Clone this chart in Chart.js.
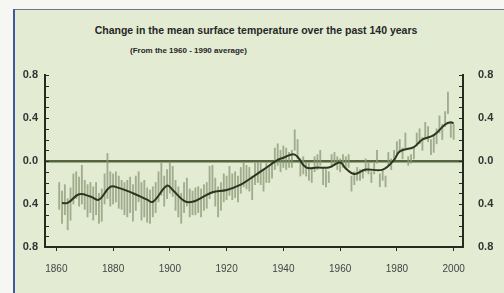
<!DOCTYPE html>
<html>
<head>
<meta charset="utf-8">
<script src="https://cdn.jsdelivr.net/npm/chart.js@4"></script>
<style>
  html, body { margin: 0; padding: 0; background: #f6f7f2; }
  #wrap { position: relative; width: 504px; height: 293px; overflow: hidden; }
  #panel {
    position: absolute; left: 13px; top: 9px; right: 0; bottom: 0;
    background-color: #e3ebd3;
    border-top: 1px solid #6c7890;
    border-left: 2px solid #3e58a3;
  }
  .txt { position: absolute; font-family: "Liberation Sans", Arial, sans-serif; font-weight: bold; color: #262626; white-space: nowrap; }
  #title { left: 0; width: 512px; top: 24px; font-size: 10.5px; text-align: center; }
  #sub { left: 130px; top: 46px; font-size: 8px; }
  canvas { position: absolute; left: 0; top: 0; }
</style>
</head>
<body>
<div id="wrap">
  <div id="panel"></div>
  <div class="txt" id="title">Change in the mean surface temperature over the past 140 years</div>
  <div class="txt" id="sub">(From the 1960 - 1990 average)</div>
  <canvas id="c" width="504" height="293"></canvas>
</div>
<script>
// annual ranges, 1861-2000
const years = [];
for (let y = 1861; y <= 2000; y++) years.push(y);

const annualHigh = [
  -0.20,-0.28,-0.22,-0.35,-0.25,-0.12,-0.10,-0.15,-0.04,-0.18,
  -0.22,-0.20,-0.24,-0.20,-0.30,-0.26,-0.12, 0.07,-0.10,-0.12,
  -0.10,-0.14,-0.18,-0.20,-0.18,-0.15,-0.22,-0.14,-0.10,-0.20,
  -0.18,-0.25,-0.27,-0.24,-0.20,-0.10,-0.02,-0.14,-0.08,-0.01,
  -0.05,-0.18,-0.24,-0.30,-0.20,-0.16,-0.26,-0.28,-0.25,-0.24,
  -0.26,-0.22,-0.20,-0.05,-0.04,-0.16,-0.24,-0.20,-0.12,-0.14,
  -0.05,-0.12,-0.10,-0.14,-0.06,-0.01,-0.04,-0.06,-0.14,-0.02,
   0.00,-0.02,-0.08,-0.02,-0.04, 0.00, 0.12, 0.16, 0.10, 0.14,
   0.12, 0.08, 0.10, 0.29, 0.20, 0.02, 0.04, 0.00,-0.02,-0.06,
   0.04, 0.06, 0.10,-0.06,-0.08,-0.10, 0.06, 0.08, 0.04, 0.02,
   0.06, 0.04, 0.06,-0.14,-0.10,-0.06,-0.08,-0.08, 0.02,-0.02,
  -0.10,-0.02, 0.10,-0.12,-0.08,-0.14, 0.08, 0.02, 0.10, 0.18,
   0.20, 0.12, 0.26, 0.04, 0.06, 0.12, 0.26, 0.30, 0.22, 0.36,
   0.32, 0.20, 0.24, 0.30, 0.42, 0.34, 0.46, 0.64, 0.36, 0.34
];
const annualLow = [
  -0.45,-0.58,-0.50,-0.64,-0.55,-0.40,-0.35,-0.42,-0.40,-0.45,
  -0.52,-0.48,-0.55,-0.50,-0.58,-0.56,-0.40,-0.35,-0.42,-0.40,
  -0.38,-0.44,-0.45,-0.50,-0.52,-0.48,-0.56,-0.46,-0.38,-0.55,
  -0.52,-0.57,-0.58,-0.52,-0.48,-0.38,-0.32,-0.42,-0.35,-0.30,
  -0.33,-0.46,-0.52,-0.58,-0.48,-0.42,-0.52,-0.50,-0.50,-0.48,
  -0.52,-0.46,-0.44,-0.35,-0.30,-0.42,-0.52,-0.46,-0.38,-0.36,
  -0.32,-0.36,-0.34,-0.38,-0.30,-0.24,-0.26,-0.28,-0.36,-0.22,
  -0.20,-0.22,-0.28,-0.20,-0.20,-0.16,-0.08,-0.04,-0.10,-0.06,
  -0.08,-0.06,-0.06, 0.10, 0.02,-0.14,-0.12,-0.14,-0.18,-0.20,
  -0.10,-0.08,-0.04,-0.22,-0.24,-0.20,-0.06,-0.04,-0.08,-0.10,
  -0.06,-0.08,-0.06,-0.28,-0.22,-0.18,-0.18,-0.16,-0.10,-0.12,
  -0.20,-0.12,-0.02,-0.24,-0.18,-0.24,-0.04,-0.08, 0.00, 0.06,
   0.08, 0.02, 0.12,-0.04,-0.02, 0.02, 0.14, 0.16, 0.10, 0.22,
   0.18, 0.06, 0.08, 0.16, 0.26, 0.20, 0.32, 0.44, 0.22, 0.20
];

// smoothed curve
const smoothYears = [1862,1864,1868,1872,1875,1879,1882,1887,1892,1894,1899,1901,1905,1908,1912,1915,1920,1925,1928,1933,1938,1940,1944,1948,1952,1956,1960,1962,1965,1969,1975,1979,1981,1986,1989,1993,1997,1999,2000];
const smoothValues = [-0.39,-0.39,-0.31,-0.33,-0.36,-0.24,-0.25,-0.30,-0.36,-0.38,-0.23,-0.27,-0.37,-0.38,-0.33,-0.29,-0.27,-0.22,-0.17,-0.08,0.01,0.03,0.06,-0.06,-0.06,-0.06,-0.015,-0.07,-0.12,-0.08,-0.08,0.01,0.09,0.13,0.20,0.24,0.34,0.36,0.35];

const xTicks = [1860,1880,1900,1920,1940,1960,1980,2000];
const yTicks = [-0.8,-0.4,0,0.4,0.8];

const barData = years.map((y,i) => ({ x: y, y: [annualLow[i], annualHigh[i]] }));
const lineData = smoothYears.map((y,i) => ({ x: y, y: smoothValues[i] }));

const axisCol = '#262b20';
const fmt = v => Math.abs(v).toFixed(1);

// small inward ticks every 0.1 on both vertical axes
const minorTicks = {
  id: 'minorTicks',
  afterDatasetsDraw(chart){
    const {ctx, chartArea:a, scales} = chart;
    ctx.save();
    ctx.strokeStyle = axisCol; ctx.lineWidth = 1;
    for(let k=-8;k<=8;k++){
      const py = Math.round(scales.y.getPixelForValue(k/10)) + 0.5;
      ctx.beginPath();
      ctx.moveTo(a.left, py); ctx.lineTo(a.left+4, py);
      ctx.moveTo(a.right, py); ctx.lineTo(a.right-4, py);
      ctx.stroke();
    }
    ctx.restore();
  }
};

Chart.defaults.font.family = '"Liberation Sans", Arial, sans-serif';
Chart.defaults.color = '#222';

new Chart(document.getElementById('c'), {
  type: 'bar',
  data: {
    datasets: [
      { type:'line', data: lineData, borderColor:'#2b3621', borderWidth:2, pointRadius:0, tension:0.4, fill:false, yAxisID:'y', order:0 },
      { type:'bar', data: barData, backgroundColor:'rgba(138,152,118,0.75)', barThickness:1.2, yAxisID:'y', order:1 }
    ]
  },
  options: {
    responsive:false, devicePixelRatio:1, animation:false,
    layout:{ padding:{ top:75, left:0, right:0, bottom:0 } },
    plugins:{ legend:{display:false}, tooltip:{enabled:false} },
    scales:{
      x:{
        type:'linear', min:1856, max:2003.3, offset:false,
        afterBuildTicks: s => { s.ticks = xTicks.map(v => ({value:v})); },
        afterFit: s => { s.height = 46; },
        grid:{ drawOnChartArea:false, drawTicks:true, tickLength:4, color:axisCol, offset:false },
        border:{ display:true, color:axisCol, width:2 },
        ticks:{ padding:12, maxRotation:0, font:{size:10}, color:'#444', callback: v => String(v) }
      },
      y:{
        position:'left', min:-0.8, max:0.8,
        afterBuildTicks: s => { s.ticks = yTicks.map(v => ({value:v})); },
        afterFit: s => { s.width = 45; },
        grid:{ drawTicks:false, color: c => c.tick && c.tick.value === 0 ? '#55653f' : 'rgba(0,0,0,0)', lineWidth: c => c.tick && c.tick.value === 0 ? 2.5 : 0 },
        border:{ display:true, color:axisCol, width:2 },
        ticks:{ padding:7, font:{size:11, weight:'bold'}, color:'#333', callback: fmt }
      },
      y2:{
        position:'right', min:-0.8, max:0.8,
        afterBuildTicks: s => { s.ticks = yTicks.map(v => ({value:v})); },
        afterFit: s => { s.width = 41; },
        grid:{ display:false, drawTicks:false },
        border:{ display:true, color:axisCol, width:2 },
        ticks:{ padding:15, font:{size:11, weight:'bold'}, color:'#333', callback: fmt }
      }
    }
  },
  plugins:[minorTicks]
});
</script>
</body>
</html>
